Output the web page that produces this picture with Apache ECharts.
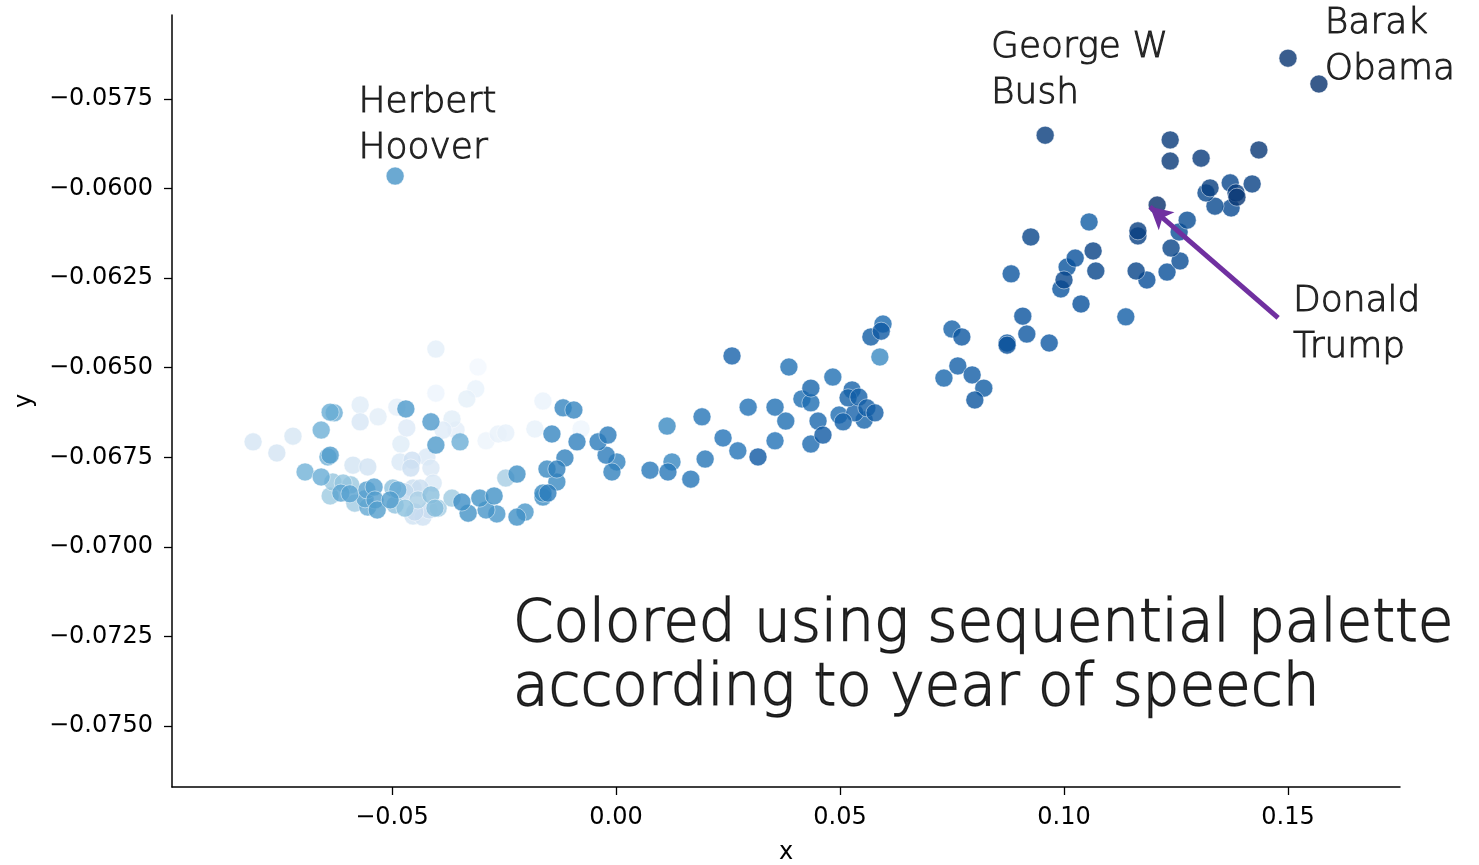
<!DOCTYPE html>
<html>
<head>
<meta charset="utf-8">
<script src="https://cdn.jsdelivr.net/npm/echarts@6/dist/echarts.min.js"></script>
<style>
  html, body { margin: 0; padding: 0; background: #fff; }
  #chart { width: 1479px; height: 865px; }
</style>
</head>
<body>
<div id="chart"></div>
<script>
// Each speech: [x, y, year]. Grouped by era for readability.
const earlyRepublic = [
  [-0.0308, -0.06498, 1795], [-0.0078, -0.06671, 1800], [-0.0402, -0.06571, 1802],
  [-0.0290, -0.06704, 1803], [-0.0163, -0.06593, 1805], [-0.0313, -0.06559, 1806],
  [-0.0263, -0.06685, 1807], [-0.0181, -0.06671, 1808], [-0.0246, -0.06682, 1809],
  [-0.0333, -0.06587, 1810], [-0.0489, -0.06610, 1811], [-0.0402, -0.06448, 1812],
  [-0.0357, -0.06674, 1813], [-0.0531, -0.06637, 1814], [-0.0366, -0.06643, 1815],
  [-0.0571, -0.06604, 1816], [-0.0480, -0.06713, 1817], [-0.0386, -0.06674, 1818],
  [-0.0467, -0.06668, 1820], [-0.0422, -0.06749, 1822], [-0.0482, -0.06763, 1823],
  [-0.0413, -0.06780, 1825], [-0.0408, -0.06822, 1826], [-0.0571, -0.06651, 1827],
  [-0.0721, -0.06691, 1828], [-0.0810, -0.06707, 1830], [-0.0757, -0.06738, 1832],
  [-0.0587, -0.06772, 1833], [-0.0554, -0.06777, 1834], [-0.0453, -0.06914, 1835],
  [-0.0431, -0.06917, 1836], [-0.0455, -0.06758, 1838], [-0.0458, -0.06780, 1840],
  [-0.0453, -0.06836, 1842], [-0.0437, -0.06836, 1844], [-0.0417, -0.06897, 1845],
  [-0.0449, -0.06903, 1848], [-0.0471, -0.06847, 1850]
];

const gildedAge = [
  [-0.0442, -0.06869, 1868], [-0.0246, -0.06808, 1870], [-0.0397, -0.06892, 1872],
  [-0.0583, -0.06878, 1874], [-0.0366, -0.06864, 1875], [-0.0638, -0.06858, 1876],
  [-0.0592, -0.06827, 1878], [-0.0632, -0.06819, 1880], [-0.0609, -0.06822, 1882],
  [-0.0493, -0.06883, 1884], [-0.0498, -0.06836, 1885], [-0.0471, -0.06892, 1886],
  [-0.0413, -0.06855, 1888], [-0.0404, -0.06892, 1890], [-0.0694, -0.06791, 1901],
  [-0.0643, -0.06749, 1902], [-0.0658, -0.06674, 1903], [-0.0348, -0.06707, 1904],
  [-0.0629, -0.06626, 1905], [-0.0638, -0.06624, 1906], [-0.0658, -0.06805, 1907],
  [-0.0554, -0.06889, 1909], [-0.0487, -0.06841, 1910], [-0.0560, -0.06866, 1914],
  [-0.0614, -0.06850, 1916], [-0.0594, -0.06852, 1917], [-0.0556, -0.06841, 1918],
  [-0.0540, -0.06833, 1919], [-0.0538, -0.06869, 1920], [-0.0533, -0.06897, 1921],
  [-0.0504, -0.06869, 1922]
];

const interwar = [
  [-0.0638, -0.06744, 1923], [-0.0402, -0.06716, 1924], [-0.0413, -0.06651, 1925],
  [-0.0469, -0.06615, 1926], [-0.0203, -0.06903, 1927], [-0.0266, -0.06908, 1928],
  [-0.0290, -0.06897, 1929], [-0.0493, -0.05965, 1930], [-0.0304, -0.06864, 1931],
  [-0.0330, -0.06906, 1932], [-0.0272, -0.06858, 1933], [-0.0221, -0.06917, 1934],
  [-0.0344, -0.06875, 1935], [-0.0221, -0.06797, 1936], [-0.0163, -0.06861, 1937],
  [-0.0163, -0.06850, 1938], [-0.0132, -0.06819, 1939], [0.0589, -0.06470, 1940],
  [0.0114, -0.06663, 1940], [-0.0154, -0.06783, 1941], [0.0125, -0.06763, 1942],
  [-0.0143, -0.06685, 1943], [-0.0118, -0.06612, 1944], [-0.0094, -0.06618, 1945],
  [0.0002, -0.06763, 1946], [-0.0009, -0.06791, 1947], [-0.0087, -0.06707, 1948],
  [-0.0114, -0.06752, 1949], [-0.0132, -0.06783, 1950], [-0.0152, -0.06850, 1951]
];

const coldWar = [
  [-0.0022, -0.06744, 1952], [-0.0040, -0.06707, 1953], [-0.0018, -0.06688, 1954],
  [0.0076, -0.06786, 1955], [0.0116, -0.06791, 1956], [0.0199, -0.06755, 1957],
  [0.0192, -0.06637, 1958], [0.0167, -0.06811, 1958], [0.0272, -0.06732, 1959],
  [0.0239, -0.06696, 1960], [0.0355, -0.06704, 1960], [0.0295, -0.06610, 1961],
  [0.0386, -0.06498, 1962], [0.0355, -0.06610, 1963], [0.0484, -0.06526, 1963],
  [0.0379, -0.06649, 1964], [0.0415, -0.06587, 1964], [0.0435, -0.06598, 1965],
  [0.0498, -0.06632, 1966], [0.0596, -0.06378, 1967], [0.0435, -0.06713, 1968],
  [0.0451, -0.06649, 1970], [0.0732, -0.06529, 1972], [0.0435, -0.06557, 1973],
  [0.0554, -0.06646, 1973], [0.0259, -0.06467, 1974], [0.0533, -0.06626, 1974],
  [0.0527, -0.06562, 1975], [0.0507, -0.06651, 1975], [0.0518, -0.06584, 1976],
  [0.0750, -0.06392, 1976], [0.0542, -0.06582, 1977], [0.0763, -0.06495, 1977],
  [0.0560, -0.06612, 1978], [0.1138, -0.06358, 1978], [0.0578, -0.06626, 1979],
  [0.0795, -0.06520, 1979], [0.0569, -0.06414, 1980], [0.1056, -0.06093, 1980],
  [0.0821, -0.06557, 1981], [0.0592, -0.06398, 1982], [0.0462, -0.06688, 1982],
  [0.0317, -0.06749, 1983], [0.0967, -0.06431, 1983], [0.0873, -0.06431, 1984],
  [0.0917, -0.06406, 1985], [0.0772, -0.06414, 1985], [0.0882, -0.06238, 1986],
  [0.0801, -0.06590, 1986], [0.0993, -0.06280, 1987], [0.0908, -0.06356, 1988],
  [0.1007, -0.06219, 1989]
];

const modernEra = [
  [0.1025, -0.06194, 1990], [0.1038, -0.06322, 1990], [0.0873, -0.06437, 1991],
  [0.1230, -0.06233, 1991], [0.1185, -0.06255, 1992], [0.1257, -0.06121, 1993],
  [0.1275, -0.06088, 1994], [0.1259, -0.06202, 1995], [0.1373, -0.06054, 1996],
  [0.1337, -0.06049, 1997], [0.1317, -0.06012, 1998], [0.1371, -0.05984, 1999],
  [0.1000, -0.06255, 1999], [0.0926, -0.06135, 2000], [0.1071, -0.06230, 2000],
  [0.1161, -0.06230, 2001], [0.1239, -0.06166, 2002], [0.1065, -0.06174, 2003],
  [0.1420, -0.05987, 2003], [0.1165, -0.06132, 2004], [0.1165, -0.06118, 2005],
  [0.1326, -0.05998, 2006], [0.1384, -0.06012, 2007], [0.0958, -0.05851, 2008],
  [0.1306, -0.05915, 2009], [0.1237, -0.05864, 2010], [0.1237, -0.05923, 2011],
  [0.1435, -0.05892, 2012], [0.1386, -0.06024, 2013], [0.1500, -0.05636, 2014],
  [0.1569, -0.05708, 2016], [0.1208, -0.06046, 2018]
];

const xTicks = [-0.05, 0.00, 0.05, 0.10, 0.15];
const yTicks = [-0.0750, -0.0725, -0.0700, -0.0675, -0.0650, -0.0625, -0.0600, -0.0575];
const yearRange = [1790, 2018];

// Sequential "Blues" ramp, light (early) to dark (recent)
const blues = ['#f7fbff', '#deebf7', '#c6dbef', '#9ecae1', '#6baed6',
               '#4292c6', '#2171b5', '#08519c', '#08306b'];

// Text callouts, anchored in data space (left edge, vertical middle)
const callouts = [
  { text: 'Herbert\nHoover',  at: [-0.0576, -0.05823], size: 36, lh: 46, stroke: 1.0 },
  { text: 'George W\nBush',   at: [0.0836, -0.05672],  size: 36, lh: 46, stroke: 1.0 },
  { text: 'Barak\nObama',     at: [0.1581, -0.05605],  size: 36, lh: 46, stroke: 1.0 },
  { text: 'Donald\nTrump',    at: [0.1510, -0.06379],  size: 36, lh: 46, stroke: 1.0 },
  { text: 'Colored using sequential palette\naccording to year of speech',
    at: [-0.0231, -0.07310], size: 58, lh: 64, stroke: 1.5 }
];
const arrowFrom = [0.1478, -0.06361];
const arrowTo = [0.1192, -0.06051];

const speeches = [].concat(earlyRepublic, gildedAge, interwar, coldWar, modernEra)
  .sort((a, b) => a[2] - b[2]);

const fmt = (v, d) => (v < -1e-12 ? '\u2212' : '') + Math.abs(v).toFixed(d);

const tickFont = { fontFamily: 'DejaVu Sans', fontSize: 24, color: '#000' };

const chart = echarts.init(document.getElementById('chart'), null, { renderer: 'canvas' });
chart.setOption({
  animation: false,
  backgroundColor: '#fff',
  grid: { left: 172, right: 79, top: 15, bottom: 78, outerBoundsMode: 'none', containLabel: false },
  xAxis: {
    type: 'value',
    min: -0.0991, max: 0.175,
    name: 'x', nameLocation: 'middle', nameGap: 54,
    nameTextStyle: tickFont,
    axisLine: { show: true, onZero: false, lineStyle: { color: '#000', width: 1.5 } },
    axisTick: { show: true, length: 8, customValues: xTicks, lineStyle: { color: '#000', width: 1.3 } },
    axisLabel: Object.assign({ margin: 19, customValues: xTicks, formatter: v => fmt(v, 2) }, tickFont),
    splitLine: { show: false }
  },
  yAxis: {
    type: 'value',
    min: -0.076704, max: -0.055154,
    name: 'y', nameLocation: 'middle', nameGap: 135,
    nameTextStyle: tickFont,
    axisLine: { show: true, onZero: false, lineStyle: { color: '#000', width: 1.5 } },
    axisTick: { show: true, length: 8, customValues: yTicks, lineStyle: { color: '#000', width: 1.3 } },
    axisLabel: Object.assign({ margin: 19, customValues: yTicks, formatter: v => fmt(v, 4) }, tickFont),
    splitLine: { show: false }
  },
  visualMap: {
    show: false, type: 'continuous', dimension: 2, seriesIndex: 0,
    min: yearRange[0], max: yearRange[1],
    inRange: { color: blues }
  },
  series: [
    {
      type: 'scatter',
      data: speeches,
      symbolSize: 18,
      itemStyle: { opacity: 0.8, borderColor: '#fff', borderWidth: 0.6 },
      emphasis: { disabled: true },
      z: 2
    },
    {
      type: 'scatter',
      silent: true,
      symbolSize: 1,
      itemStyle: { color: 'rgba(0,0,0,0)' },
      data: callouts.map(c => ({
        value: c.at,
        label: {
          show: true, position: 'right', distance: 0,
          formatter: c.text,
          fontFamily: 'DejaVu Sans', fontWeight: 200,
          fontSize: c.size, lineHeight: c.lh, color: '#000',
          textBorderColor: '#000', textBorderWidth: c.stroke
        }
      })),
      markLine: {
        silent: true,
        symbol: ['none', 'arrow'],
        symbolSize: [18, 22],
        label: { show: false },
        lineStyle: { color: '#7030a0', width: 5, type: 'solid' },
        data: [[{ coord: arrowFrom }, { coord: arrowTo }]]
      },
      z: 5
    }
  ]
});
</script>
</body>
</html>
